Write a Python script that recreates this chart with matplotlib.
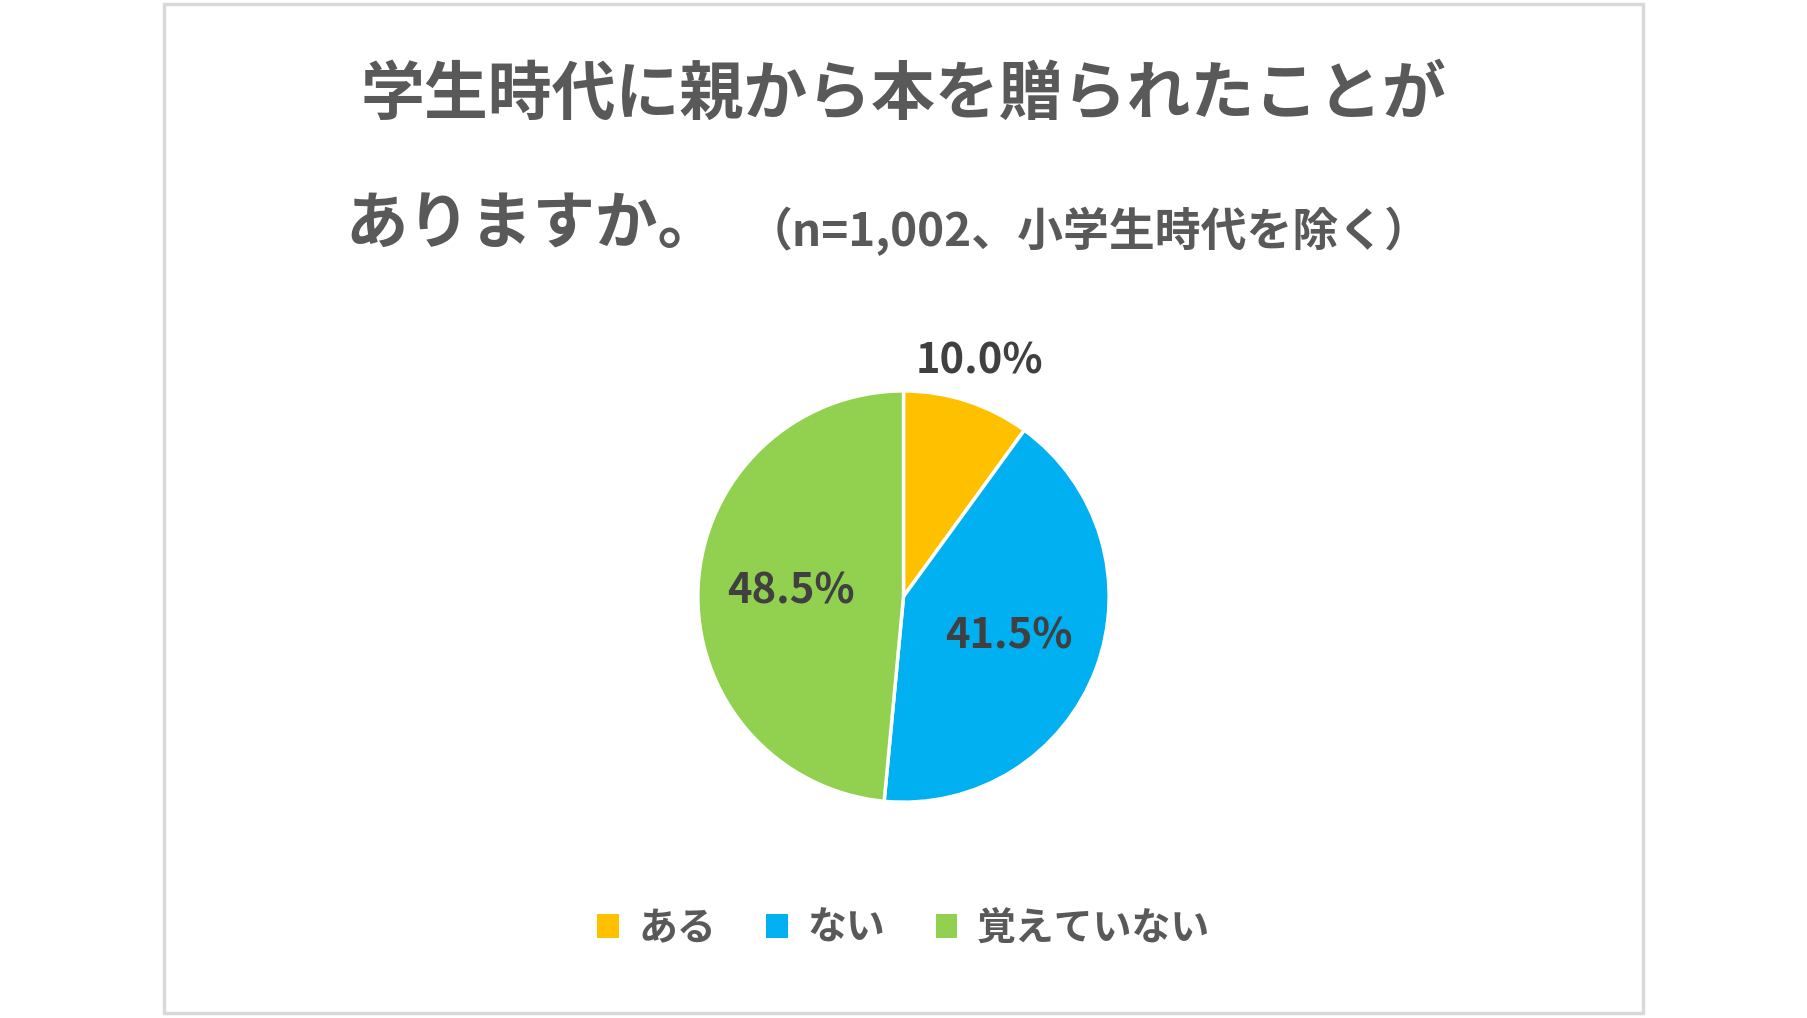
import matplotlib
matplotlib.use("Agg")
import matplotlib.pyplot as plt
from matplotlib.patches import Rectangle, Patch
import numpy as np

plt.rcParams['font.family'] = ['Noto Sans CJK JP', 'DejaVu Sans']

labels = ['ある', 'ない', '覚えていない']
values = [10.0, 41.5, 48.5]
colors = ['#FFC000', '#00B0F0', '#92D050']
title1 = '学生時代に親から本を贈られたことが'
title2 = 'ありますか。'
subtitle = '（n=1,002、小学生時代を除く）'

fig = plt.figure(figsize=(18.07, 10.18), dpi=100)
fig.patches.append(Rectangle((0.091, 0.005), 0.818, 0.991, transform=fig.transFigure,
                             fill=False, edgecolor='#d9d9d9', linewidth=2.5))
tc = '#595959'
fig.text(0.5, 0.907, title1, ha='center', va='center', fontsize=46, fontweight='bold', color=tc)
fig.text(0.191, 0.779, title2, ha='left', va='center', fontsize=45, fontweight='bold', color=tc)
fig.text(0.413, 0.773, subtitle, ha='left', va='center', fontsize=33, fontweight='bold', color=tc)

r = 0.202
ax = fig.add_axes([0.5 - r*1018/1807, 0.414 - r, 2*r*1018/1807, 2*r])
wedges, texts, autotexts = ax.pie(values, colors=colors, startangle=90, counterclock=False,
                                  autopct='%.1f%%', pctdistance=0.55,
                                  wedgeprops=dict(edgecolor='white', linewidth=2.5),
                                  textprops=dict(fontsize=30, fontweight='bold', color='#404040'))
th = np.deg2rad(90 - values[0] / 100 * 180)
autotexts[0].set_position((1.2 * np.cos(th), 1.2 * np.sin(th)))
ax.set_xlim(-1, 1)
ax.set_ylim(-1, 1)
ax.set_aspect('equal')

handles = [Patch(facecolor=c) for c in colors]
fig.legend(handles, labels, loc='center', bbox_to_anchor=(0.5, 0.088), ncol=3, frameon=False,
           prop=dict(size=28, weight='bold'), labelcolor=tc, handlelength=0.55, handleheight=0.55,
           columnspacing=1.3, handletextpad=0.5)
fig.savefig('out.png', dpi=100)
